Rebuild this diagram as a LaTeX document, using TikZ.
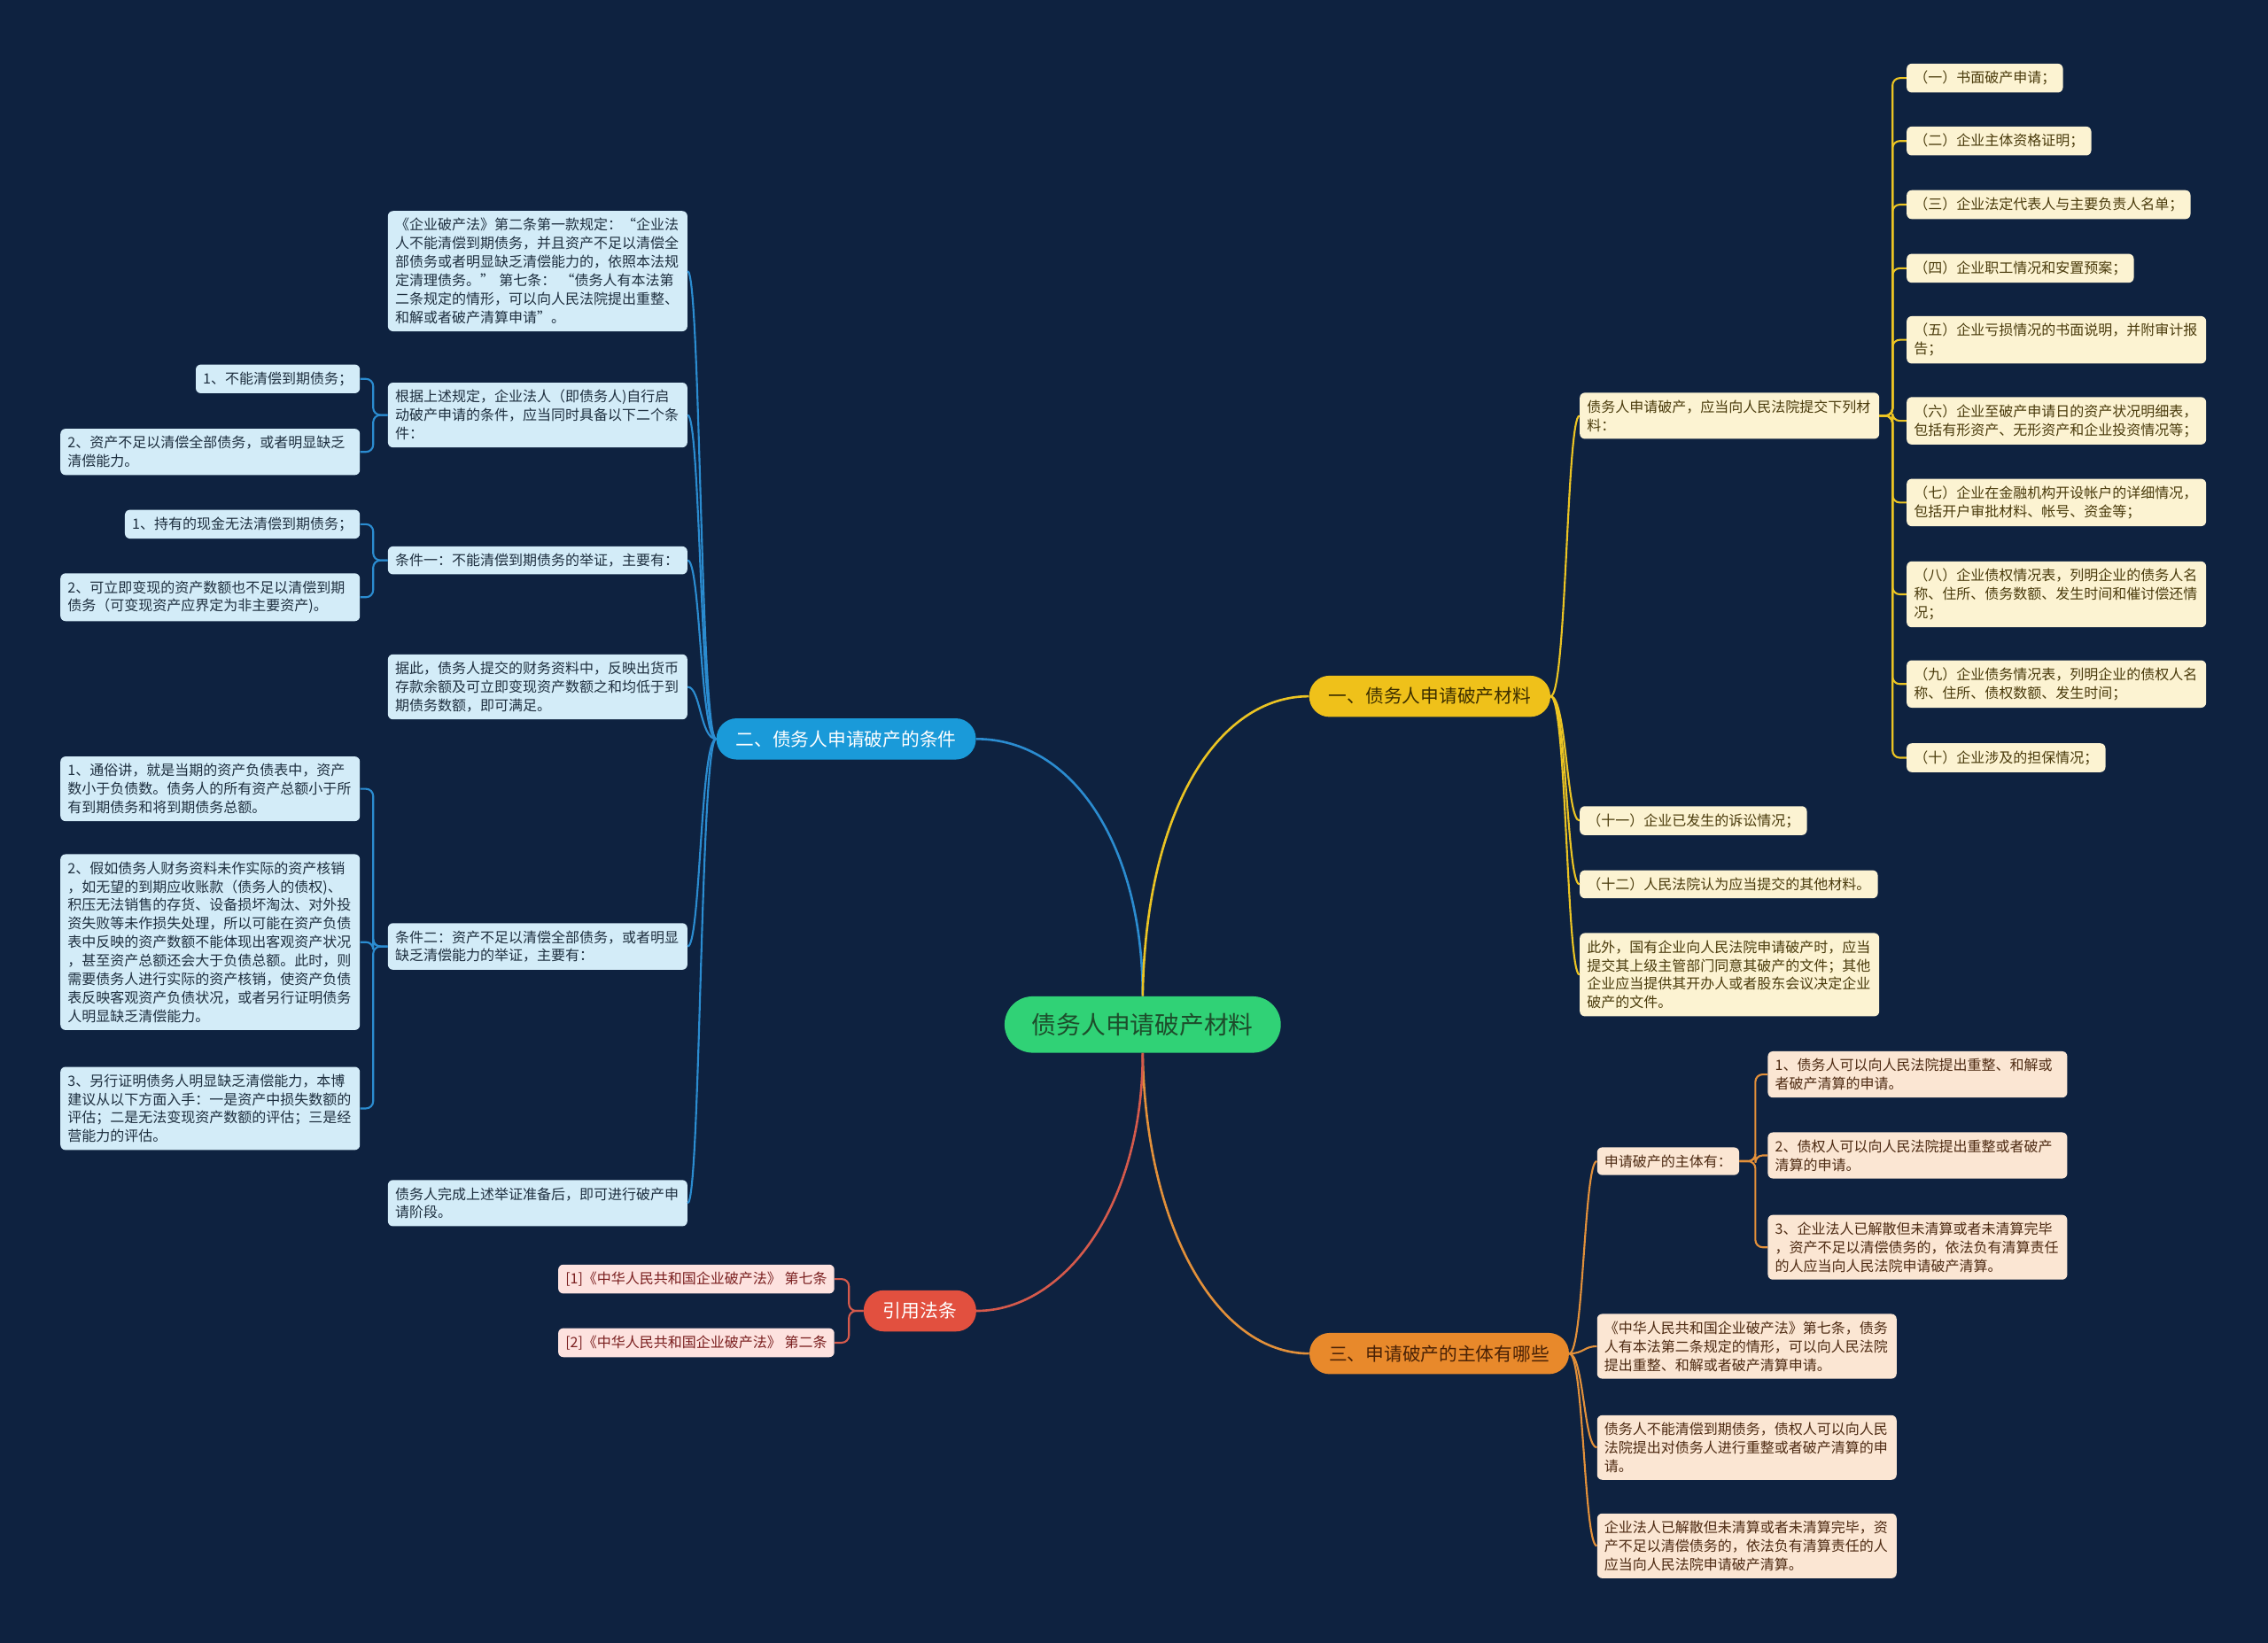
\documentclass[tikz,border=0pt]{standalone}
\usepackage{fontspec}
\setmainfont{Noto Sans CJK SC}
\definecolor{bg}{HTML}{0E2240}
\definecolor{cgreen}{HTML}{30D276}
\definecolor{ctext}{HTML}{1D4D2B}
\definecolor{bfill}{HTML}{1A9AD9}
\definecolor{bline}{HTML}{2B8CD0}
\definecolor{bleaf}{HTML}{D3ECF8}
\definecolor{btext}{HTML}{1E2F3F}
\definecolor{yfill}{HTML}{EFC11A}
\definecolor{yline}{HTML}{EBC423}
\definecolor{yleaf}{HTML}{FCF3D2}
\definecolor{ytext}{HTML}{4A3B0C}
\definecolor{ymtext}{HTML}{3D2F00}
\definecolor{ofill}{HTML}{E8892B}
\definecolor{oline}{HTML}{E2903A}
\definecolor{oleaf}{HTML}{FBE6D3}
\definecolor{otext}{HTML}{4D2A12}
\definecolor{omtext}{HTML}{4A2206}
\definecolor{rfill}{HTML}{E2503F}
\definecolor{rline}{HTML}{D55A4C}
\definecolor{rleaf}{HTML}{FDE2DF}
\definecolor{rtext}{HTML}{7A1F1F}
\tikzset{
  leaf/.style={rounded corners=3.5pt, inner xsep=5pt, inner ysep=5pt,
    font=\fontsize{9.8}{12.8}\selectfont, align=left},
  tw/.style={text width=197pt},
  bleafn/.style={leaf, fill=bleaf, text=btext},
  yleafn/.style={leaf, fill=yleaf, text=ytext},
  oleafn/.style={leaf, fill=oleaf, text=otext},
  rleafn/.style={leaf, fill=rleaf, text=rtext},
  mainn/.style={rounded corners=14pt, minimum height=28.5pt, inner xsep=13.5pt,
    font=\fontsize{12.7}{15}\selectfont},
  centern/.style={rounded corners=19.5pt, minimum height=39pt, inner xsep=19pt,
    fill=cgreen, text=ctext, font=\fontsize{17}{20}\selectfont},
  bcon/.style={draw=bline, line width=1.3pt},
  ycon/.style={draw=yline, line width=1.3pt},
  ocon/.style={draw=oline, line width=1.3pt},
  rcon/.style={draw=rline, line width=1.3pt},
  brk/.style={rounded corners=5pt},
}
\begin{document}
\begin{tikzpicture}[x=1pt,y=-1pt]
\fill[bg] (0,0) rectangle (1568,1136);
\useasboundingbox (0,0) rectangle (1568,1136);

% ---------- main nodes ----------
\node[centern] (c) at (790,708.5) {债务人申请破产材料};
\node[mainn, fill=bfill, text=white] (bm) at (585,511) {二、债务人申请破产的条件};
\node[mainn, fill=yfill, text=ymtext] (ym) at (988.5,481.5) {一、债务人申请破产材料};
\node[mainn, fill=ofill, text=omtext] (om) at (995,936) {三、申请破产的主体有哪些};
\node[mainn, fill=rfill, text=white] (rm) at (636,906.5) {引用法条};

% ---------- blue branch ----------
\node[bleafn, tw, anchor=west] (b1) at (268,187.5) {《企业破产法》第二条第一款规定：“企业法\\人不能清偿到期债务，并且资产不足以清偿全\\部债务或者明显缺乏清偿能力的，依照本法规\\定清理债务。” 第七条： “债务人有本法第\\二条规定的情形，可以向人民法院提出重整、\\和解或者破产清算申请”。};
\node[bleafn, tw, anchor=west] (b2) at (268,287) {根据上述规定，企业法人（即债务人)自行启\\动破产申请的条件，应当同时具备以下二个条\\件：};
\node[bleafn, tw, anchor=west] (b3) at (268,387.5) {条件一：不能清偿到期债务的举证，主要有：};
\node[bleafn, tw, anchor=west] (b4) at (268,475) {据此，债务人提交的财务资料中，反映出货币\\存款余额及可立即变现资产数额之和均低于到\\期债务数额，即可满足。};
\node[bleafn, tw, anchor=west] (b5) at (268,654.5) {条件二：资产不足以清偿全部债务，或者明显\\缺乏清偿能力的举证，主要有：};
\node[bleafn, tw, anchor=west] (b6) at (268,832) {债务人完成上述举证准备后，即可进行破产申\\请阶段。};

\node[bleafn, anchor=east] (b2a) at (249,262) {1、不能清偿到期债务；};
\node[bleafn, tw, anchor=east] (b2b) at (249,312.5) {2、资产不足以清偿全部债务，或者明显缺乏\\清偿能力。};
\node[bleafn, anchor=east] (b3a) at (249,362.5) {1、持有的现金无法清偿到期债务；};
\node[bleafn, tw, anchor=east] (b3b) at (249,413) {2、可立即变现的资产数额也不足以清偿到期\\债务（可变现资产应界定为非主要资产)。};
\node[bleafn, tw, anchor=east] (b5a) at (249,545.5) {1、通俗讲，就是当期的资产负债表中，资产\\数小于负债数。债务人的所有资产总额小于所\\有到期债务和将到期债务总额。};
\node[bleafn, tw, anchor=east] (b5b) at (249,651.5) {2、假如债务人财务资料未作实际的资产核销\\，如无望的到期应收账款（债务人的债权)、\\积压无法销售的存货、设备损坏淘汰、对外投\\资失败等未作损失处理，所以可能在资产负债\\表中反映的资产数额不能体现出客观资产状况\\，甚至资产总额还会大于负债总额。此时，则\\需要债务人进行实际的资产核销，使资产负债\\表反映客观资产负债状况，或者另行证明债务\\人明显缺乏清偿能力。};
\node[bleafn, tw, anchor=east] (b5c) at (249,766.5) {3、另行证明债务人明显缺乏清偿能力，本博\\建议从以下方面入手：一是资产中损失数额的\\评估；二是无法变现资产数额的评估；三是经\\营能力的评估。};

% ---------- red branch ----------
\node[rleafn, anchor=east] (r1) at (577,884.5) {[1]《中华人民共和国企业破产法》 第七条};
\node[rleafn, anchor=east] (r2) at (577,928.5) {[2]《中华人民共和国企业破产法》 第二条};

% ---------- yellow branch ----------
\node[yleafn, tw, anchor=west] (y1) at (1092,287.5) {债务人申请破产，应当向人民法院提交下列材\\料：};
\node[yleafn, anchor=west] (y2) at (1092,567.5) {（十一）企业已发生的诉讼情况；};
\node[yleafn, anchor=west] (y3) at (1092,611.5) {（十二）人民法院认为应当提交的其他材料。};
\node[yleafn, tw, anchor=west] (y4) at (1092,674) {此外，国有企业向人民法院申请破产时，应当\\提交其上级主管部门同意其破产的文件；其他\\企业应当提供其开办人或者股东会议决定企业\\破产的文件。};

\node[yleafn, anchor=west] (ya) at (1318,54) {（一）书面破产申请；};
\node[yleafn, anchor=west] (yb) at (1318,97.5) {（二）企业主体资格证明；};
\node[yleafn, anchor=west] (yc) at (1318,141.5) {（三）企业法定代表人与主要负责人名单；};
\node[yleafn, anchor=west] (yd) at (1318,185.5) {（四）企业职工情况和安置预案；};
\node[yleafn, tw, anchor=west] (ye) at (1318,235) {（五）企业亏损情况的书面说明，并附审计报\\告；};
\node[yleafn, tw, anchor=west] (yf) at (1318,291) {（六）企业至破产申请日的资产状况明细表，\\包括有形资产、无形资产和企业投资情况等；};
\node[yleafn, tw, anchor=west] (yg) at (1318,347.5) {（七）企业在金融机构开设帐户的详细情况，\\包括开户审批材料、帐号、资金等；};
\node[yleafn, tw, anchor=west] (yh) at (1318,411) {（八）企业债权情况表，列明企业的债务人名\\称、住所、债务数额、发生时间和催讨偿还情\\况；};
\node[yleafn, tw, anchor=west] (yi) at (1318,473) {（九）企业债务情况表，列明企业的债权人名\\称、住所、债权数额、发生时间；};
\node[yleafn, anchor=west] (yj) at (1318,524) {（十）企业涉及的担保情况；};

% ---------- orange branch ----------
\node[oleafn, anchor=west] (o1) at (1104,803) {申请破产的主体有：};
\node[oleafn, tw, anchor=west] (o2) at (1104,931) {《中华人民共和国企业破产法》第七条，债务\\人有本法第二条规定的情形，可以向人民法院\\提出重整、和解或者破产清算申请。};
\node[oleafn, tw, anchor=west] (o3) at (1104,1001) {债务人不能清偿到期债务，债权人可以向人民\\法院提出对债务人进行重整或者破产清算的申\\请。};
\node[oleafn, tw, anchor=west] (o4) at (1104,1069) {企业法人已解散但未清算或者未清算完毕，资\\产不足以清偿债务的，依法负有清算责任的人\\应当向人民法院申请破产清算。};

\node[oleafn, tw, anchor=west] (oa) at (1222,743) {1、债务人可以向人民法院提出重整、和解或\\者破产清算的申请。};
\node[oleafn, tw, anchor=west] (ob) at (1222,799) {2、债权人可以向人民法院提出重整或者破产\\清算的申请。};
\node[oleafn, tw, anchor=west] (oc) at (1222,862.5) {3、企业法人已解散但未清算或者未清算完毕\\，资产不足以清偿债务的，依法负有清算责任\\的人应当向人民法院申请破产清算。};

% ---------- connectors: center to main ----------
\begin{scope}[on background layer/.style={}]
\draw[bcon, line width=1.6pt] (c.north) .. controls (790,585) and (742,511) .. (bm.east);
\draw[ycon, line width=1.6pt] (c.north) .. controls (792,560) and (842,481.5) .. (ym.west);
\draw[ocon, line width=1.6pt] (c.south) .. controls (792,850) and (842,936) .. (om.west);
\draw[rcon, line width=1.6pt] (c.south) .. controls (790,835) and (735,906.5) .. (rm.east);
\end{scope}

% blue main to children
\foreach \n in {b1,b2,b3,b4,b5,b6}
  \draw[bcon] (bm.west) .. controls +(-11,0) and +(9,0) .. (\n.east);
% blue brackets
\foreach \n in {b2a,b2b} \draw[bcon, brk] (b2.west) -- ++(-10,0) |- (\n.east);
\foreach \n in {b3a,b3b} \draw[bcon, brk] (b3.west) -- ++(-10,0) |- (\n.east);
\foreach \n in {b5a,b5b,b5c} \draw[bcon, brk] (b5.west) -- ++(-10,0) |- (\n.east);

% red
\foreach \n in {r1,r2} \draw[rcon, brk] (rm.west) -- ++(-10,0) |- (\n.east);

% yellow
\foreach \n in {y1,y2,y3,y4}
  \draw[ycon] (ym.east) .. controls +(11,0) and +(-9,0) .. (\n.west);
\foreach \n in {ya,yb,yc,yd,ye,yf,yg,yh,yi,yj}
  \draw[ycon, brk] (y1.east) -- ++(9,0) |- (\n.west);

% orange
\foreach \n in {o1,o2,o3,o4}
  \draw[ocon] (om.east) .. controls +(10,0) and +(-9,0) .. (\n.west);
\foreach \n in {oa,ob,oc}
  \draw[ocon, brk] (o1.east) -- ++(11,0) |- (\n.west);
\end{tikzpicture}
\end{document}
